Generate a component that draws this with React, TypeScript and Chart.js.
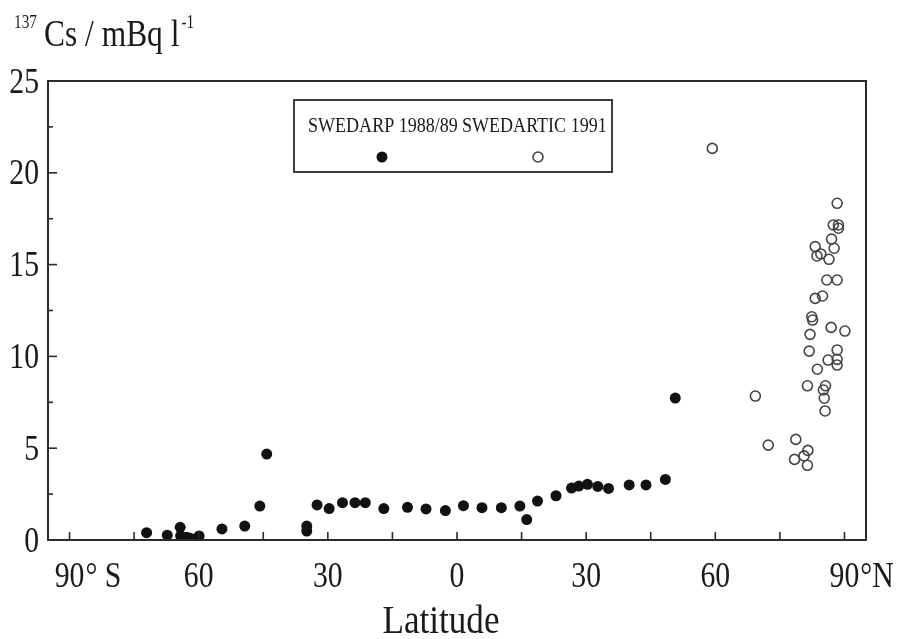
import React, { useEffect, useRef } from "react";
import { Chart, registerables } from "chart.js";

Chart.register(...registerables);

// SWEDARP 1988/89 (filled circles)
const swedarpLat = [
  -72.1, -67.3, -64.3, -64.2, -62.8, -62.0, -59.9, -54.6, -49.3, -45.8, -44.2,
  -34.9, -34.9, -32.5, -29.7, -26.6, -23.7, -21.3, -17.0, -11.5, -7.2, -2.7,
  1.5, 5.8, 10.3, 14.6, 16.2, 18.7, 23.0, 26.6, 28.3, 30.3, 32.7, 35.2, 40.0,
  43.9, 48.4, 50.7,
];
const swedarpCs = [
  0.4, 0.26, 0.69, 0.22, 0.15, 0.1, 0.22, 0.6, 0.76, 1.85, 4.68, 0.76, 0.49,
  1.91, 1.71, 2.03, 2.03, 2.03, 1.71, 1.78, 1.69, 1.6, 1.87, 1.76, 1.76, 1.85,
  1.11, 2.12, 2.41, 2.83, 2.94, 3.03, 2.92, 2.81, 3.0, 3.0, 3.3, 7.73,
];

// SWEDARTIC 1991 (open circles)
const swedarticLat = [
  59.3, 88.3, 87.4, 88.6, 88.6, 87.0, 87.6, 83.2, 83.6, 84.5, 86.4, 85.9, 88.3,
  83.2, 84.9, 82.4, 82.6, 82.0, 86.9, 90.1, 81.8, 88.3, 86.2, 88.3, 88.3, 83.7,
  81.4, 85.6, 85.1, 85.3, 85.5, 69.3, 72.3, 78.7, 78.4, 80.6, 81.5, 81.4,
];
const swedarticCs = [
  21.33, 18.34, 17.16, 17.16, 16.98, 16.39, 15.89, 15.98, 15.47, 15.58, 15.29,
  14.16, 14.16, 13.16, 13.29, 12.16, 11.98, 11.2, 11.58, 11.38, 10.29, 10.35,
  9.8, 9.84, 9.53, 9.3, 8.4, 8.4, 8.17, 7.72, 7.03, 7.84, 5.17, 5.48, 4.39,
  4.58, 4.88, 4.07,
];

const seriesLabels = ["SWEDARP 1988/89", "SWEDARTIC 1991"];

// Axis ticks and labels
const yMajorTicks = [0, 5, 10, 15, 20, 25];
const yMinorTicks = [2.5, 7.5, 12.5, 17.5, 22.5];
const yTickLabels = ["0", "5", "10", "15", "20", "25"];
const xTicks = [-90, -75, -60, -45, -30, -15, 0, 15, 30, 45, 60, 75, 90];
const xLabelValues = [-90, -60, -30, 0, 30, 60, 90];
const xLabelNumbers = ["90", "60", "30", "0", "30", "60", "90"];
const xLabelSuffixes = ["\u00B0 S", "", "", "", "", "", "\u00B0N"];
const xTitle = "Latitude";
const yTitleSup = "137";
const yTitleMain = "Cs / mBq l";
const yTitleSup2 = "-1";

const SERIF = "'Liberation Serif', 'Times New Roman', serif";

function drawText(
  ctx: CanvasRenderingContext2D,
  s: string,
  x: number,
  y: number,
  size: number,
  align: CanvasTextAlign,
  sx = 0.85
) {
  ctx.save();
  ctx.font = `${size}px ${SERIF}`;
  ctx.textAlign = align;
  ctx.textBaseline = "alphabetic";
  ctx.translate(x, y);
  ctx.scale(sx, 1);
  ctx.fillText(s, 0, 0);
  ctx.restore();
}

function textWidth(ctx: CanvasRenderingContext2D, s: string, size: number, sx = 0.85) {
  ctx.save();
  ctx.font = `${size}px ${SERIF}`;
  const w = ctx.measureText(s).width * sx;
  ctx.restore();
  return w;
}

export default function App() {
  const ref = useRef<HTMLCanvasElement>(null);

  useEffect(() => {
    document.body.style.margin = "0";
    const canvas = ref.current!;

    const deco = {
      id: "deco",
      afterDatasetsDraw(chart: any) {
        const ctx: CanvasRenderingContext2D = chart.ctx;
        const { left, right, top, bottom } = chart.chartArea;
        const xs = chart.scales.x;
        const ys = chart.scales.y;
        const ink = "#2a2a2a";
        ctx.save();
        ctx.strokeStyle = ink;
        ctx.fillStyle = "#1a1a1a";

        // frame
        ctx.lineWidth = 2;
        ctx.strokeRect(left, top, right - left, bottom - top);

        // y ticks (inward)
        ctx.lineWidth = 1.6;
        yMajorTicks.forEach((v) => {
          const y = ys.getPixelForValue(v);
          ctx.beginPath();
          ctx.moveTo(left, y);
          ctx.lineTo(left + 9, y);
          ctx.stroke();
        });
        yMinorTicks.forEach((v) => {
          const y = ys.getPixelForValue(v);
          ctx.beginPath();
          ctx.moveTo(left, y);
          ctx.lineTo(left + 5, y);
          ctx.stroke();
        });
        // x ticks (inward)
        xTicks.forEach((v) => {
          const x = xs.getPixelForValue(v);
          ctx.beginPath();
          ctx.moveTo(x, bottom);
          ctx.lineTo(x, bottom - 8);
          ctx.stroke();
        });

        // y tick labels
        yMajorTicks.forEach((v, i) => {
          const y = ys.getPixelForValue(v);
          drawText(ctx, yTickLabels[i], left - 9, y + 11.5, 35, "right");
        });

        // x tick labels
        xLabelValues.forEach((v, i) => {
          const x = xs.getPixelForValue(v);
          const num = xLabelNumbers[i];
          const w = textWidth(ctx, num, 35);
          drawText(ctx, num, x, bottom + 47, 35, "center");
          if (xLabelSuffixes[i]) {
            drawText(ctx, xLabelSuffixes[i], x + w / 2 + 1, bottom + 47, 35, "left");
          }
        });

        // x title
        drawText(ctx, xTitle, (left + right) / 2 - 16, bottom + 93, 39, "center", 0.9);

        // y title
        drawText(ctx, yTitleSup, 14, 28, 18, "left");
        const wm = textWidth(ctx, yTitleMain, 37);
        drawText(ctx, yTitleMain, 44, 46, 37, "left");
        drawText(ctx, yTitleSup2, 44 + wm + 2, 28, 18, "left");

        // legend box
        const lx = 294, ly = 100, lw = 318, lh = 72;
        ctx.lineWidth = 1.8;
        ctx.strokeStyle = ink;
        ctx.strokeRect(lx, ly, lw, lh);
        drawText(ctx, seriesLabels[0], lx + 14, ly + 32, 22, "left", 0.82);
        drawText(ctx, seriesLabels[1], lx + 168, ly + 32, 22, "left", 0.82);
        // legend markers
        ctx.beginPath();
        ctx.arc(lx + 88, ly + 57, 5.5, 0, Math.PI * 2);
        ctx.fillStyle = "#111";
        ctx.fill();
        ctx.beginPath();
        ctx.arc(lx + 244, ly + 57, 5, 0, Math.PI * 2);
        ctx.lineWidth = 1.6;
        ctx.strokeStyle = "#444";
        ctx.stroke();

        ctx.restore();
      },
    };

    const chart = new Chart(canvas, {
      type: "scatter",
      data: {
        datasets: [
          {
            label: seriesLabels[0],
            data: swedarpLat.map((x, i) => ({ x, y: swedarpCs[i] })),
            pointRadius: 5.5,
            pointBackgroundColor: "#111",
            pointBorderColor: "#111",
            pointBorderWidth: 0,
          },
          {
            label: seriesLabels[1],
            data: swedarticLat.map((x, i) => ({ x, y: swedarticCs[i] })),
            pointRadius: 5,
            pointBackgroundColor: "rgba(0,0,0,0)",
            pointBorderColor: "#444",
            pointBorderWidth: 1.6,
          },
        ],
      },
      options: {
        responsive: false,
        animation: false,
        layout: { padding: { left: 48, right: 34, top: 81, bottom: 99 } },
        scales: {
          x: { type: "linear", min: -95, max: 95, display: false },
          y: { type: "linear", min: 0, max: 25, display: false },
        },
        plugins: {
          legend: { display: false },
          tooltip: { enabled: false },
        },
      },
      plugins: [deco],
    });

    return () => chart.destroy();
  }, []);

  return (
    <div
      style={{
        position: "absolute",
        left: 0,
        top: 0,
        width: 900,
        height: 639,
        background: "#fff",
      }}
    >
      <canvas ref={ref} width={900} height={639} style={{ display: "block", width: 900, height: 639 }} />
    </div>
  );
}
